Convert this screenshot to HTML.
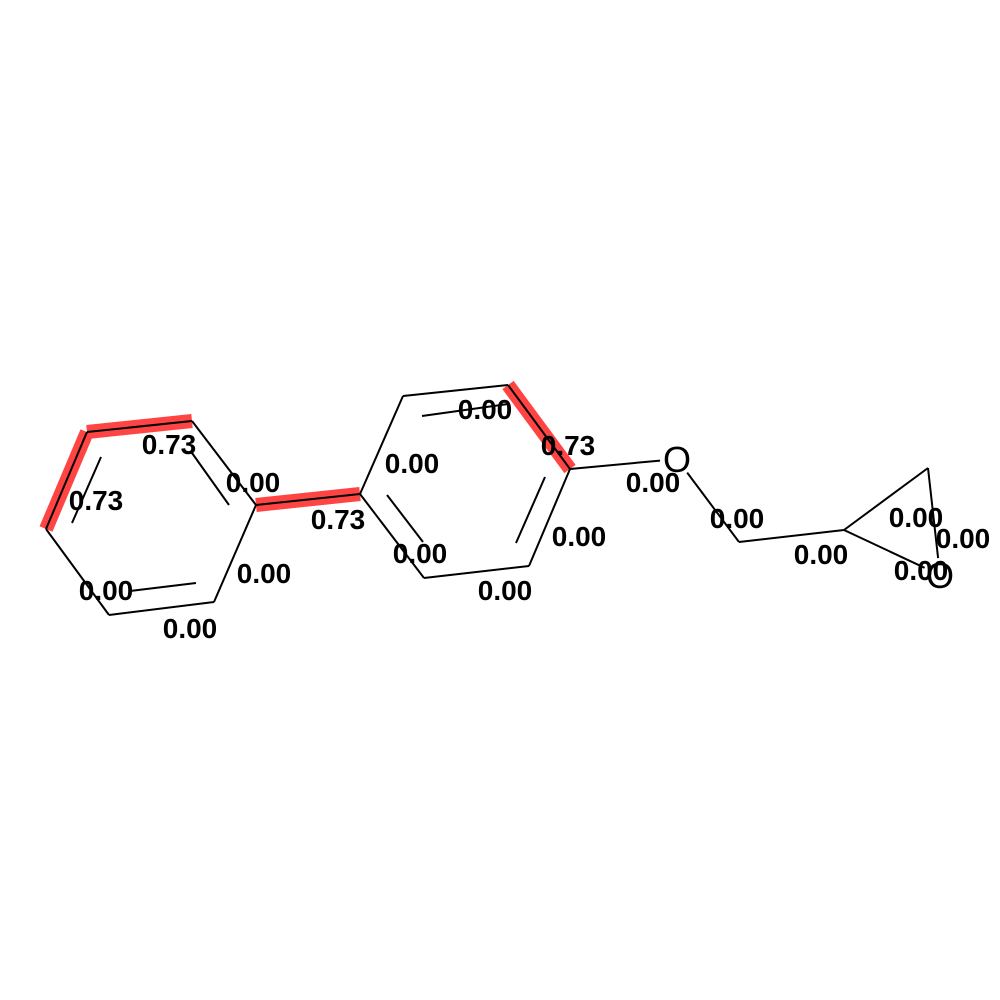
<!DOCTYPE html>
<html><head><meta charset="utf-8"><style>
html,body{margin:0;padding:0;background:#fff;}
svg{display:block;}
.lbl{font-family:"Liberation Sans",sans-serif;font-weight:bold;font-size:28px;fill:#000;}
.atom{font-family:"Liberation Sans",sans-serif;font-size:36px;fill:#000;}
</style></head><body>
<svg id="mol" width="1000" height="1000" viewBox="0 0 1000 1000" xmlns="http://www.w3.org/2000/svg">
<rect width="1000" height="1000" fill="#fff"/>
<g id="hl"></g><g id="bonds"></g><g id="labels"></g>
</svg>
<script>
const atomX=[87,192,256,214,109,46,360,403,508,570,529,424,677,739,844,928,940];
const atomY=[432,421,505,602,615,529,494,396,385,469,566,578,459,542,530,468,575];
const bondFrom=[5,0,1,2,3,4,2,6,7,8,9,10,11,9,12,13,14,15,14];
const bondTo=[0,1,2,3,4,5,6,7,8,9,10,11,6,12,13,14,15,16,16];
const bondWeights=[0.73,0.73,0.00,0.00,0.00,0.00,0.73,0.00,0.00,0.73,0.00,0.00,0.00,0.00,0.00,0.00,0.00,0.00,0.00];
const labelX=[96,169,253,264,190,106,338,412,485,568,579,505,420,653,737,821,916,963,921];
const labelY=[500,444,482,573,628,590,519,463,409,445,536,590,553,482,518,554,517,538,570];
const labelText=["0.73","0.73","0.00","0.00","0.00","0.00","0.73","0.00","0.00","0.73","0.00","0.00","0.00","0.00","0.00","0.00","0.00","0.00","0.00"];
const NS="http://www.w3.org/2000/svg";
const hl=document.getElementById('hl'),bg=document.getElementById('bonds'),lg=document.getElementById('labels');
function ln(g,x1,y1,x2,y2,stroke,w){const l=document.createElementNS(NS,'line');
l.setAttribute('x1',x1);l.setAttribute('y1',y1);l.setAttribute('x2',x2);l.setAttribute('y2',y2);
l.setAttribute('stroke',stroke);l.setAttribute('stroke-width',w);g.appendChild(l);return l;}
const hetero={12:true,16:true};
function endpt(i,j){let x=atomX[i],y=atomY[i];if(hetero[i]){const dx=atomX[j]-x,dy=atomY[j]-y,d=Math.hypot(dx,dy);x+=dx/d*17;y+=dy/d*17;}return [x,y];}
bondFrom.forEach((f,k)=>{const t=bondTo[k];
 if(bondWeights[k]>0.5){const h=ln(hl,atomX[f],atomY[f],atomX[t],atomY[t],'#ff4444',14);
 
 }
 const a=endpt(f,t),b=endpt(t,f);const l=ln(bg,a[0],a[1],b[0],b[1],'#000',2);
 
 });
const inner=[[101,457,72,523],[192,453,229,505],[196,583,130,591],[422,416,508,404],[545,477,516,543],[387,495,423,542]];
inner.forEach((p,k)=>{const l=ln(bg,p[0],p[1],p[2],p[3],'#000',2);
 
 });
[12,16].forEach(i=>{const t=document.createElementNS(NS,'text');t.setAttribute('class','atom');
 t.setAttribute('x',atomX[i]);t.setAttribute('y',atomY[i]+13);t.setAttribute('text-anchor','middle');t.textContent='O';
 
 lg.appendChild(t);});
labelText.forEach((s,k)=>{const t=document.createElementNS(NS,'text');t.setAttribute('class','lbl');
 t.setAttribute('x',labelX[k]);t.setAttribute('y',labelY[k]+10);t.setAttribute('text-anchor','middle');t.textContent=s;
 
 lg.appendChild(t);});
</script>
</body></html>
